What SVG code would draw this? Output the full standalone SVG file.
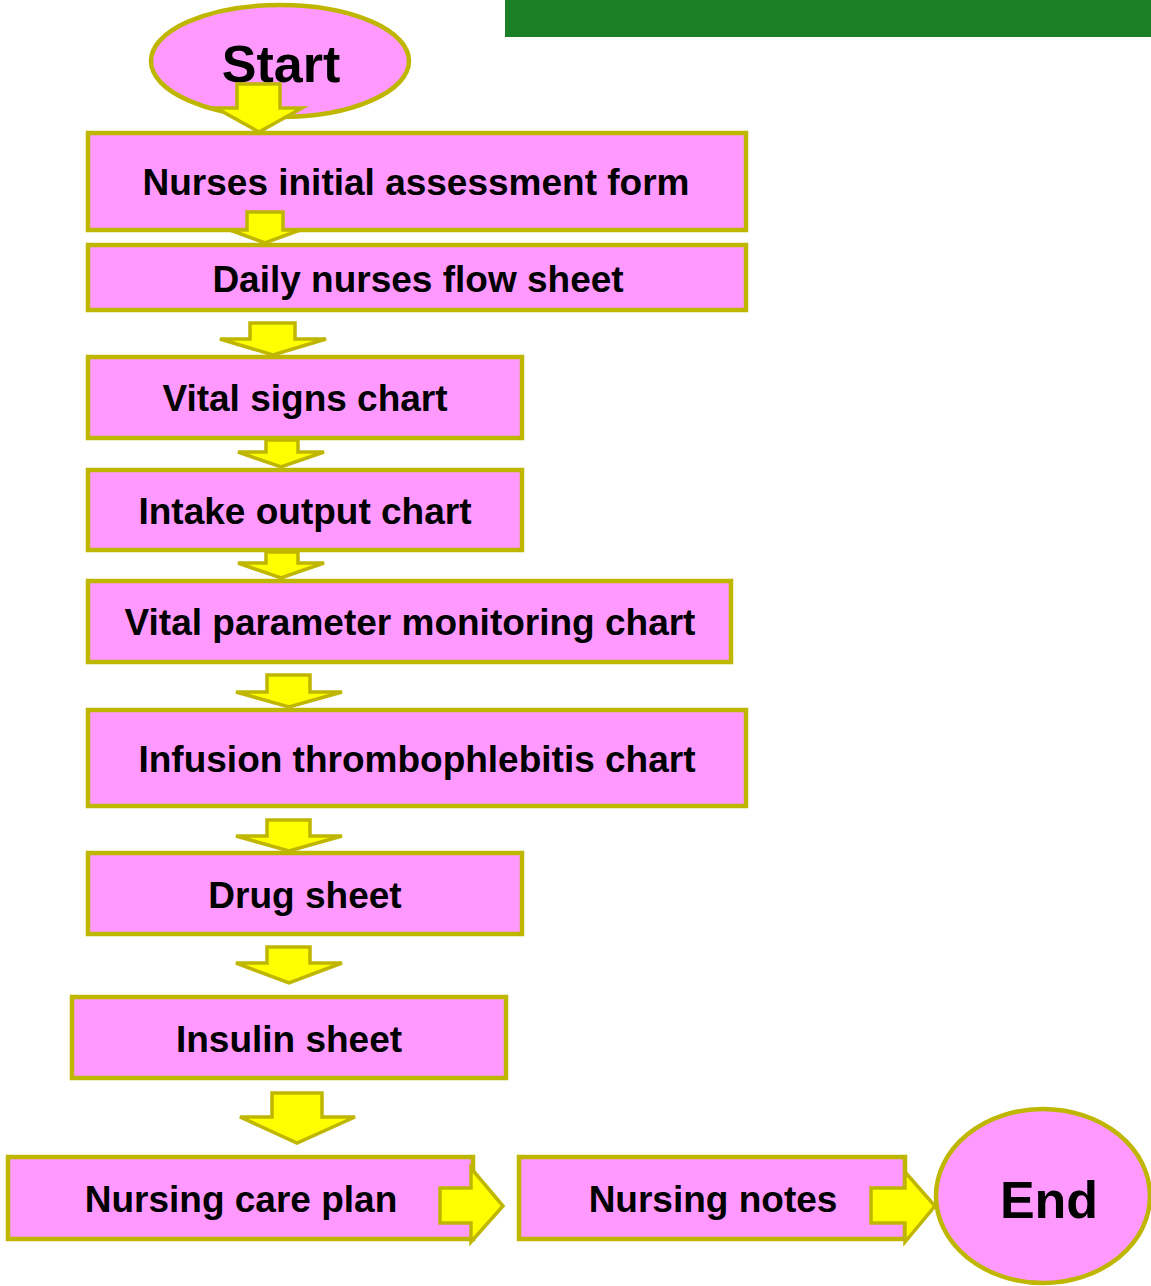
<svg xmlns="http://www.w3.org/2000/svg" width="1151" height="1286" viewBox="0 0 1151 1286">
<style>
.box{fill:#FF99FF;stroke:#BFB600;stroke-width:4.5}
.arr{fill:#FFFF00;stroke:#BFB600;stroke-width:3.5;stroke-linejoin:miter}
.t{font-family:"Liberation Sans",Arial,sans-serif;font-weight:bold;font-size:37px;fill:#000;text-anchor:middle}
.big{font-size:52px}
</style>
<rect x="505" y="0" width="646" height="37" fill="#1B7F25"/>
<g id="start"><ellipse class="box" cx="280" cy="61" rx="129" ry="56"/><text class="t big" x="281" y="82">Start</text></g>
<g id="n1"><rect class="box" x="88" y="133" width="658" height="97"/><text class="t" x="416" y="195">Nurses initial assessment form</text></g>
<g id="n2"><rect class="box" x="88" y="245" width="658" height="65"/><text class="t" x="418" y="292">Daily nurses flow sheet</text></g>
<g id="n3"><rect class="box" x="88" y="357" width="434" height="81"/><text class="t" x="305" y="411">Vital signs chart</text></g>
<g id="n4"><rect class="box" x="88" y="470" width="434" height="80"/><text class="t" x="305" y="524">Intake output chart</text></g>
<g id="n5"><rect class="box" x="88" y="581" width="643" height="81"/><text class="t" x="410" y="635">Vital parameter monitoring chart</text></g>
<g id="n6"><rect class="box" x="88" y="710" width="658" height="96"/><text class="t" x="417" y="772">Infusion thrombophlebitis chart</text></g>
<g id="n7"><rect class="box" x="88" y="853" width="434" height="81"/><text class="t" x="305" y="908">Drug sheet</text></g>
<g id="n8"><rect class="box" x="72" y="997" width="434" height="81"/><text class="t" x="289" y="1052">Insulin sheet</text></g>
<g id="n9"><rect class="box" x="8" y="1157" width="465" height="82"/><text class="t" x="241" y="1212">Nursing care plan</text></g>
<g id="n10"><rect class="box" x="519" y="1157" width="386" height="82"/><text class="t" x="713" y="1212">Nursing notes</text></g>
<g id="end"><ellipse class="box" cx="1043" cy="1196" rx="107" ry="87"/><text class="t big" x="1049" y="1218">End</text></g>
<g id="connectors">
<polygon class="arr" points="237,84 280,84 280,108 302,108 259,132 216,108 237,108"/>
<polygon class="arr" points="247,212 283,212 283,230 300,230 265,243 230,230 247,230"/>
<polygon class="arr" points="250,323 295,323 295,339 326,339 273,355 220,339 250,339"/>
<polygon class="arr" points="266,440 298,440 298,452 324,452 281,467 238,452 266,452"/>
<polygon class="arr" points="266,552 298,552 298,563 324,563 281,578 238,563 266,563"/>
<polygon class="arr" points="267,675 310,675 310,692 342,692 289,707 236,692 267,692"/>
<polygon class="arr" points="267,820 310,820 310,836 342,836 289,851 236,836 267,836"/>
<polygon class="arr" points="267,947 310,947 310,963 342,963 289,983 236,963 267,963"/>
<polygon class="arr" points="272,1093 322,1093 322,1117 355,1117 297,1143 240,1117 272,1117"/>
<polygon class="arr" points="440,1188 471,1188 471,1168 503,1206 471,1242 471,1223 440,1223"/>
<polygon class="arr" points="871,1188 905,1188 905,1172 935,1206 905,1242 905,1223 871,1223"/>
</g>
</svg>
